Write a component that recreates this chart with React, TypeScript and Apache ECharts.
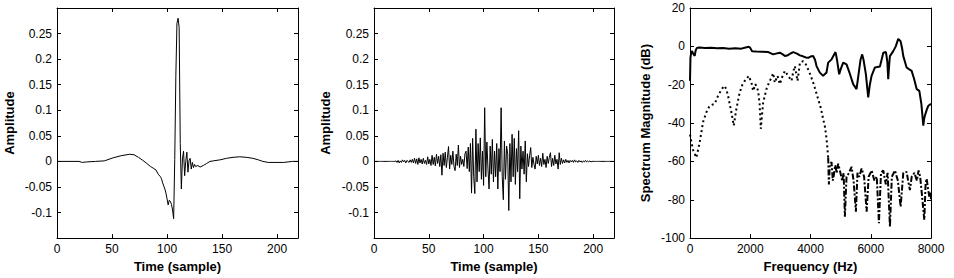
import React, { useEffect, useRef } from "react";
import * as echarts from "echarts";

// Panel 1: pulse waveform (sample, amplitude)
const PULSE_X = [0, 20, 23, 27, 35, 43, 51, 58, 66, 70, 74, 78, 81, 85, 88, 90, 92, 94, 95, 96, 98, 99, 100, 101, 102, 103, 104, 105, 106, 107, 108, 109, 110, 111, 112, 113, 114, 115, 116, 117, 118, 119, 120, 121, 122, 123, 124, 125, 126, 128, 130, 133, 136, 139, 142, 148, 154, 160, 166, 172, 178, 183, 187, 192, 200, 206, 210, 214, 219];
const PULSE_Y = [0, 0, -0.002, -0.001, 0, 0.001, 0.007, 0.011, 0.014, 0.013, 0.008, 0.002, -0.003, -0.01, -0.014, -0.017, -0.025, -0.03, -0.034, -0.042, -0.054, -0.062, -0.073, -0.085, -0.076, -0.078, -0.084, -0.095, -0.112, 0.004, 0.168, 0.27, 0.28, 0.262, 0.035, -0.054, 0.005, 0.02, -0.028, 0.0, 0.018, -0.021, 0.002, 0.006, -0.015, -0.002, -0.012, -0.006, -0.01, -0.008, -0.011, -0.008, -0.004, 0.0, 0.001, 0.003, 0.006, 0.008, 0.009, 0.008, 0.006, 0.003, 0.0, -0.002, -0.002, -0.002, -0.001, 0, 0];

// Panel 2: noise-like waveform, one value per sample 0..219
const NOISE_Y = [
  0, 0, 0, 0, 0, 0, 0, 0, 0, 0, 0, 0, 0, 0, 0, 0, 0, 0, 0, 0,
  0.001, -0.002, 0.002, -0.003, 0.001, -0.002, 0.003, -0.001, 0.002, -0.003,
  0.002, 0.0, -0.002, 0.003, -0.002, 0.004, -0.003, 0.006, -0.004, 0.005,
  -0.006, 0.007, -0.003, 0.004, -0.005, 0.006, -0.004, 0.002, -0.006, 0.009,
  -0.005, 0.004, -0.008, 0.012, -0.006, 0.008, -0.009, 0.014, -0.004, 0.01,
  -0.01, 0.013, -0.027, 0.016, -0.008, 0.018, -0.012, 0.008, 0.029, -0.015,
  0.012, -0.006, 0.02, -0.01, -0.018, 0.014, -0.008, 0.032, -0.012, 0.01,
  -0.006, 0.004, -0.01, 0.015, 0.02, -0.014, 0.028, -0.02, 0.035, -0.062,
  0.045, -0.03, -0.063, 0.063, -0.04, 0.035, -0.02, 0.046, -0.035, 0.02,
  -0.047, 0.105, -0.03, 0.038, -0.015, -0.054, 0.03, -0.025, 0.043, -0.04,
  0.02, -0.03, 0.035, -0.054, 0.025, -0.02, 0.105, -0.03, -0.075, 0.04,
  -0.035, 0.03, 0.015, -0.096, 0.035, -0.04, 0.053, -0.03, 0.045, -0.045,
  0.025, -0.02, 0.06, -0.073, 0.03, -0.015, 0.02, -0.025, 0.04, -0.04,
  0.015, -0.01, 0.012, 0.027, -0.012, 0.008, -0.006, -0.015, 0.01, -0.005,
  0.012, -0.008, 0.006, -0.01, 0.016, -0.006, 0.004, -0.012, 0.01, -0.004,
  0.008, 0.017, -0.01, 0.006, -0.008, 0.012, -0.005, 0.004, -0.015, 0.017,
  -0.006, 0.006, -0.004, 0.003, -0.003, 0.004, -0.002, 0.002, -0.003, 0.002,
  -0.001, 0.002, -0.002, 0.003, -0.001, 0.001, -0.002, 0.002, -0.001, 0.001,
  -0.002, 0.001, -0.001, 0.002, -0.001, 0.001, -0.001, 0.001, -0.001, 0.0,
  0, 0, 0, 0, 0, 0, 0, 0, 0, 0, 0, 0, 0, 0, 0, 0, 0, 0, 0, 0
];

// Panel 3: spectra (Hz, dB)
const SOLID_F = [0, 15, 40, 70, 110, 156, 190, 230, 300, 500, 700, 900, 1100, 1300, 1500, 1700, 1850, 1950, 2000, 2060, 2200, 2400, 2600, 2760, 2850, 2980, 3080, 3150, 3250, 3350, 3430, 3550, 3650, 3750, 3850, 3922, 4000, 4088, 4150, 4200, 4310, 4420, 4470, 4530, 4587, 4700, 4753, 4830, 4880, 4952, 5000, 5085, 5196, 5300, 5417, 5528, 5600, 5660, 5716, 5760, 5838, 5916, 5970, 6027, 6138, 6220, 6305, 6360, 6416, 6505, 6550, 6580, 6610, 6636, 6747, 6830, 6913, 6990, 7040, 7080, 7190, 7280, 7357, 7440, 7524, 7612, 7680, 7745, 7770, 7800, 7860, 7910, 8000];
const SOLID_DB = [-18, -6, -3, -2.5, -4, -5, -2, -0.8, -0.6, -0.8, -0.7, -1, -0.9, -1.2, -1.0, -1.2, -0.6, -0.2, -0.8, -2.5, -2.7, -2.8, -3, -4.2, -3.8, -3.3, -4.2, -5, -4.6, -3.6, -3, -3.8, -4.7, -5.2, -5.8, -6, -5.3, -5, -7, -10.3, -13.7, -15.4, -14.5, -13.7, -8.5, -6.8, -5.1, -3.0, -7, -14.6, -12, -8.5, -9.4, -14, -19.7, -22.3, -14, -7, -4.2, -7, -14.5, -26.6, -20, -15.4, -11, -10.8, -10.5, -7, -3.3, -3.0, -8, -17.1, -10, -5.1, -2.5, 0, 3.9, 2.7, -1, -5.1, -11, -12, -12.8, -17, -22.3, -23.2, -30, -41.3, -38, -36, -33, -31, -30];

const DOT_F = [0, 100, 212, 322, 433, 543, 650, 710, 820, 931, 1030, 1130, 1200, 1263, 1374, 1452, 1540, 1650, 1740, 1818, 1951, 2040, 2096, 2173, 2262, 2310, 2350, 2428, 2538, 2620, 2705, 2760, 2816, 2905, 2983, 3060, 3150, 3260, 3371, 3430, 3482, 3570, 3650, 3756, 3850, 3922, 4000, 4088, 4170, 4254, 4340, 4420, 4480, 4532, 4560, 4587];
const DOT_DB = [-46, -54, -58, -50, -39.5, -34.4, -31, -30.6, -30, -25.8, -23, -20.6, -22, -25.8, -34.4, -41.3, -32.6, -24, -20, -18, -15.4, -18.9, -23.2, -19.7, -23.2, -30, -43, -29.3, -22.3, -19, -16.2, -14, -18.9, -15.4, -19.7, -16, -12.8, -15.4, -18, -13, -10.3, -18, -8.5, -7.7, -9.5, -12, -15, -18.9, -23, -27.5, -32, -37.9, -42, -48.2, -53, -58];

const DASH_F = [4587, 4610, 4640, 4698, 4740, 4775, 4820, 4870, 4919, 4975, 5050, 5100, 5141, 5196, 5280, 5363, 5430, 5507, 5560, 5620, 5696, 5780, 5863, 5930, 6030, 6120, 6200, 6271, 6340, 6416, 6500, 6560, 6637, 6700, 6803, 6900, 6992, 7080, 7190, 7240, 7300, 7360, 7450, 7530, 7588, 7640, 7700, 7777, 7820, 7855, 7900, 7943, 7990, 8000];
const DASH_DB = [-58, -72, -62, -60.3, -70, -67.2, -62, -66, -61.2, -64.7, -70, -66, -88.8, -68, -66, -62.8, -70, -86.2, -66, -68, -63.7, -68, -86.2, -68, -64.7, -70, -68, -92.2, -66, -64.7, -72, -66, -94, -68, -64.7, -70, -83.6, -66, -65.5, -70, -75, -68, -66, -70, -64.7, -68, -77.5, -90.5, -72, -69, -74, -78.4, -75.9, -80];

const FONT = "Liberation Sans";

const nameStyle = { fontFamily: FONT, fontWeight: "bold" as const, fontSize: 13, color: "#000" };
const labelStyle = { color: "#000", fontFamily: FONT, fontSize: 12, formatter: (v: number) => String(v) };

function xPair(grid: number, min: number, max: number, interval: number, name: string, showMaxLabel: boolean) {
  const common = {
    type: "value",
    gridIndex: grid,
    min,
    max,
    interval,
    splitLine: { show: false },
    axisLine: { show: true, onZero: false, lineStyle: { color: "#000", width: 1 } },
    axisTick: { show: true, inside: true, length: 4, lineStyle: { color: "#000" } },
  };
  return [
    {
      ...common,
      position: "bottom",
      name,
      nameLocation: "middle",
      nameGap: 19,
      nameTextStyle: nameStyle,
      axisLabel: { ...labelStyle, margin: 5, showMaxLabel, showMinLabel: true },
    },
    { ...common, position: "top", axisLabel: { show: false } },
  ];
}

function yPair(grid: number, min: number, max: number, interval: number, name: string, showEnds: boolean, nameGap: number) {
  const common = {
    type: "value",
    gridIndex: grid,
    min,
    max,
    interval,
    splitLine: { show: false },
    axisLine: { show: true, onZero: false, lineStyle: { color: "#000", width: 1 } },
    axisTick: { show: true, inside: true, length: 4, lineStyle: { color: "#000" } },
  };
  return [
    {
      ...common,
      position: "left",
      name,
      nameLocation: "middle",
      nameGap,
      nameTextStyle: nameStyle,
      axisLabel: { ...labelStyle, margin: 5, showMinLabel: showEnds, showMaxLabel: showEnds },
    },
    { ...common, position: "right", axisLabel: { show: false } },
  ];
}

export default function App() {
  const ref = useRef<HTMLDivElement>(null);
  useEffect(() => {
    const chart = echarts.init(ref.current!, null, { renderer: "svg" });
    const pulse = PULSE_X.map((x, i) => [x, PULSE_Y[i]]);
    const noise = NOISE_Y.map((v, i) => [i, v]);
    const solid = SOLID_F.map((f, i) => [f, SOLID_DB[i]]);
    const dotted = DOT_F.map((f, i) => [f, DOT_DB[i]]);
    const dashed = DASH_F.map((f, i) => [f, DASH_DB[i]]);
    const option: any = {
      animation: false,
      backgroundColor: "#fff",
      grid: [
        { left: 57, top: 8, width: 241, height: 232 },
        { left: 374, top: 8, width: 240, height: 232 },
        { left: 690, top: 8, width: 241, height: 232 },
      ],
      xAxis: [
        ...xPair(0, 0, 219, 50, "Time (sample)", false),
        ...xPair(1, 0, 219, 50, "Time (sample)", false),
        ...xPair(2, 0, 8000, 2000, "Frequency (Hz)", true),
      ],
      yAxis: [
        ...yPair(0, -0.15, 0.3, 0.05, "Amplitude", false, 41),
        ...yPair(1, -0.15, 0.3, 0.05, "Amplitude", false, 42),
        ...yPair(2, -100, 20, 20, "Spectrum Magnitude (dB)", true, 38),
      ],
      series: [
        {
          type: "line", xAxisIndex: 0, yAxisIndex: 0, data: pulse, symbol: "none",
          lineStyle: { color: "#000", width: 1 },
        },
        {
          type: "line", xAxisIndex: 2, yAxisIndex: 2, data: noise, symbol: "none",
          lineStyle: { color: "#000", width: 1 },
        },
        {
          type: "line", xAxisIndex: 4, yAxisIndex: 4, data: solid, symbol: "none",
          lineStyle: { color: "#000", width: 2 },
        },
        {
          type: "line", xAxisIndex: 4, yAxisIndex: 4, data: dotted, symbol: "none",
          lineStyle: { color: "#000", width: 2, type: [2, 3] },
        },
        {
          type: "line", xAxisIndex: 4, yAxisIndex: 4, data: dashed, symbol: "none",
          lineStyle: { color: "#000", width: 2, type: [6, 2, 2, 2] },
        },
      ],
    };
    chart.setOption(option);
    return () => chart.dispose();
  }, []);
  return (
    <div
      ref={ref}
      style={{ position: "absolute", left: 0, top: 0, width: 954, height: 278, background: "#fff" }}
    />
  );
}
